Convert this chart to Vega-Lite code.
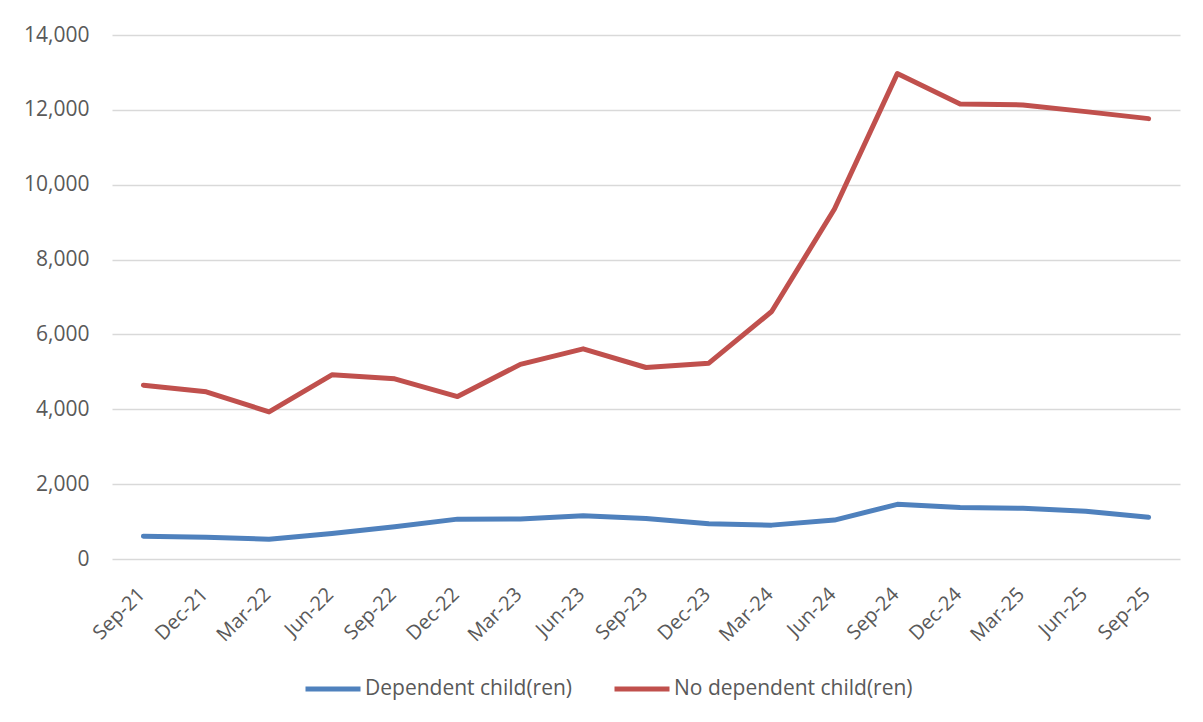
{
  "$schema": "https://vega.github.io/schema/vega-lite/v6.json",
  "width": 1068,
  "height": 524,
  "autosize": {"type": "none"},
  "padding": {"left": 112, "top": 35, "right": 23, "bottom": 163},
  "background": "white",
  "config": {
    "font": "Open Sans",
    "view": {"stroke": null}
  },
  "data": {
    "values": [
      {"quarter": "Sep-21", "series": "Dependent child(ren)", "value": 607},
      {"quarter": "Dec-21", "series": "Dependent child(ren)", "value": 580},
      {"quarter": "Mar-22", "series": "Dependent child(ren)", "value": 530},
      {"quarter": "Jun-22", "series": "Dependent child(ren)", "value": 680},
      {"quarter": "Sep-22", "series": "Dependent child(ren)", "value": 860},
      {"quarter": "Dec-22", "series": "Dependent child(ren)", "value": 1065},
      {"quarter": "Mar-23", "series": "Dependent child(ren)", "value": 1070},
      {"quarter": "Jun-23", "series": "Dependent child(ren)", "value": 1155},
      {"quarter": "Sep-23", "series": "Dependent child(ren)", "value": 1080},
      {"quarter": "Dec-23", "series": "Dependent child(ren)", "value": 940},
      {"quarter": "Mar-24", "series": "Dependent child(ren)", "value": 905},
      {"quarter": "Jun-24", "series": "Dependent child(ren)", "value": 1040},
      {"quarter": "Sep-24", "series": "Dependent child(ren)", "value": 1460},
      {"quarter": "Dec-24", "series": "Dependent child(ren)", "value": 1375},
      {"quarter": "Mar-25", "series": "Dependent child(ren)", "value": 1355},
      {"quarter": "Jun-25", "series": "Dependent child(ren)", "value": 1275},
      {"quarter": "Sep-25", "series": "Dependent child(ren)", "value": 1115},
      {"quarter": "Sep-21", "series": "No dependent child(ren)", "value": 4645},
      {"quarter": "Dec-21", "series": "No dependent child(ren)", "value": 4466},
      {"quarter": "Mar-22", "series": "No dependent child(ren)", "value": 3931},
      {"quarter": "Jun-22", "series": "No dependent child(ren)", "value": 4920},
      {"quarter": "Sep-22", "series": "No dependent child(ren)", "value": 4813},
      {"quarter": "Dec-22", "series": "No dependent child(ren)", "value": 4340},
      {"quarter": "Mar-23", "series": "No dependent child(ren)", "value": 5200},
      {"quarter": "Jun-23", "series": "No dependent child(ren)", "value": 5615},
      {"quarter": "Sep-23", "series": "No dependent child(ren)", "value": 5116},
      {"quarter": "Dec-23", "series": "No dependent child(ren)", "value": 5233},
      {"quarter": "Mar-24", "series": "No dependent child(ren)", "value": 6613},
      {"quarter": "Jun-24", "series": "No dependent child(ren)", "value": 9350},
      {"quarter": "Sep-24", "series": "No dependent child(ren)", "value": 12969},
      {"quarter": "Dec-24", "series": "No dependent child(ren)", "value": 12158},
      {"quarter": "Mar-25", "series": "No dependent child(ren)", "value": 12131},
      {"quarter": "Jun-25", "series": "No dependent child(ren)", "value": 11953},
      {"quarter": "Sep-25", "series": "No dependent child(ren)", "value": 11766}
    ]
  },
  "mark": {"type": "line", "strokeWidth": 5, "strokeCap": "round", "strokeJoin": "round"},
  "encoding": {
    "x": {
      "field": "quarter",
      "type": "ordinal",
      "sort": null,
      "scale": {"type": "point", "padding": 0.5},
      "axis": {
        "title": null,
        "labelAngle": -45,
        "labelAlign": "right",
        "labelBaseline": "middle",
        "labelPadding": 32,
        "labelOffset": -2,
        "labelFont": "Open Sans",
        "labelFontSize": 20,
        "labelColor": "#595959",
        "ticks": false,
        "domain": false,
        "grid": false
      }
    },
    "y": {
      "field": "value",
      "type": "quantitative",
      "scale": {"domain": [0, 14000], "nice": false, "zero": true},
      "axis": {
        "title": null,
        "values": [0, 2000, 4000, 6000, 8000, 10000, 12000, 14000],
        "format": ",.0f",
        "ticks": false,
        "domain": false,
        "grid": true,
        "gridColor": "#d9d9d9",
        "gridWidth": 1.5,
        "labelPadding": 23,
        "labelFont": "Open Sans",
        "labelFontSize": 21,
        "labelColor": "#595959"
      }
    },
    "color": {
      "field": "series",
      "type": "nominal",
      "scale": {"domain": ["Dependent child(ren)", "No dependent child(ren)"], "range": ["#4F81BD", "#C0504D"]},
      "legend": {
        "title": null,
        "orient": "none",
        "direction": "horizontal",
        "legendX": 191,
        "legendY": 624,
        "symbolType": "stroke",
        "symbolSize": 3025,
        "symbolStrokeWidth": 5,
        "labelFont": "Open Sans",
        "labelFontSize": 21,
        "labelColor": "#595959",
        "labelLimit": 0,
        "labelOffset": 2,
        "columnPadding": 31,
        "symbolOffset": 0
      }
    }
  }
}
